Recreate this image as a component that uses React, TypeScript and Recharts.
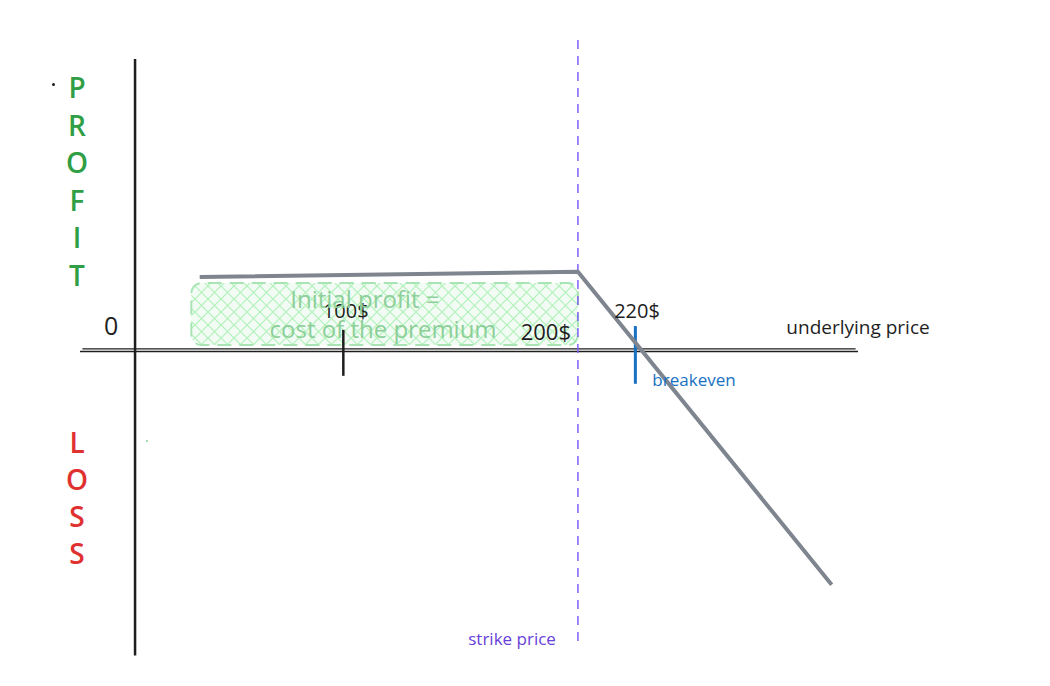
import React from "react";
import {
  LineChart,
  Line,
  XAxis,
  YAxis,
  ReferenceLine,
  ReferenceArea,
  ReferenceDot,
} from "recharts";

// payoff of the short call (price -> profit)
const payoffPrice = [40, 198, 304];
const payoffValue = [19.6, 21, -61.4];

// where the hand-drawn marks sit on the price scale
const strikePrice = 198;
const breakevenPrice = 222;
const markPrice = 100;

const tickLabels = ["100$", "200$", "220$"];

const premiumBox = { x1: 36.5, x2: 198, y1: 1.7, y2: 18 };

const profitLetters = ["P", "R", "O", "F", "I", "T"];
const lossLetters = ["L", "O", "S", "S"];

const data = payoffPrice.map((x, i) => ({ x, y: payoffValue[i] }));

const FONT = "'Open Sans', 'DejaVu Sans', sans-serif";

function Note({ x, y, text, color, size }: any) {
  return (
    <ReferenceDot
      x={x}
      y={y}
      r={1}
      fill="none"
      stroke="none"
      ifOverflow="visible"
      label={{
        value: text,
        position: "center",
        fill: color,
        fontSize: size,
        fontFamily: FONT,
        fontWeight: 500,
      }}
    />
  );
}

export default function App() {
  return (
    <div
      style={{
        position: "absolute",
        left: 0,
        top: 0,
        width: 1050,
        height: 686,
        background: "#fff",
        fontFamily: FONT,
      }}
    >
      <LineChart
        width={1050}
        height={686}
        data={data}
        margin={{ top: 40, right: 192, bottom: 23, left: 80 }}
      >
        <defs>
          <pattern id="hatch" width="13" height="13" patternUnits="userSpaceOnUse">
            <rect width="13" height="13" fill="#f3fcf4" />
            <path d="M0,0 L13,13 M13,0 L0,13" stroke="#b2f2bb" strokeWidth="1.2" />
          </pattern>
        </defs>
        <XAxis type="number" dataKey="x" domain={[-10, 315]} hide allowDataOverflow />
        <YAxis type="number" domain={[-82, 82]} hide allowDataOverflow />

        <ReferenceArea
          x1={premiumBox.x1}
          x2={premiumBox.x2}
          y1={premiumBox.y1}
          y2={premiumBox.y2}
          fill="url(#hatch)"
          fillOpacity={1}
          stroke="#a9e5b4"
          strokeWidth={2}
          strokeDasharray="14 8"
          radius={10}
        />

        {/* axes, drawn like the sketch */}
        <ReferenceLine
          segment={[{ x: 13, y: 77 }, { x: 13, y: -80 }]}
          stroke="#1e1e1e"
          strokeWidth={2.5}
        />
        <ReferenceLine
          segment={[{ x: -10, y: 0 }, { x: 315, y: 0 }]}
          stroke="#1e1e1e"
          strokeWidth={1.5}
        />
        <ReferenceLine
          segment={[{ x: -9, y: 0.7 }, { x: 314, y: 0.7 }]}
          stroke="#1e1e1e"
          strokeWidth={1.2}
        />

        <ReferenceLine
          segment={[{ x: strikePrice, y: 82 }, { x: strikePrice, y: -77 }]}
          stroke="#845ef7"
          strokeWidth={1.5}
          strokeDasharray="9 7"
        />

        <ReferenceLine
          segment={[{ x: markPrice, y: 5.7 }, { x: markPrice, y: -6.4 }]}
          stroke="#1e1e1e"
          strokeWidth={2.5}
        />
        <ReferenceLine
          segment={[{ x: breakevenPrice, y: 6.7 }, { x: breakevenPrice, y: -8.5 }]}
          stroke="#1971c2"
          strokeWidth={3}
        />

        <Line
          type="linear"
          dataKey="y"
          stroke="#7f858e"
          strokeWidth={4}
          dot={false}
          isAnimationActive={false}
        />

        <Note x={3} y={6.7} text="0" color="#1e1e1e" size={25} />
        <Note x={101} y={10.6} text={tickLabels[0]} color="#1e1e1e" size={20} />
        <Note x={184.6} y={5.2} text={tickLabels[1]} color="#1e1e1e" size={22} />
        <Note x={222.7} y={10.7} text={tickLabels[2]} color="#1e1e1e" size={20} />
        <Note x={315} y={6.5} text="underlying price" color="#1e1e1e" size={19} />
        <Note x={246.5} y={-7.5} text="breakeven" color="#1971c2" size={17} />
        <Note x={170.5} y={-75.6} text="strike price" color="#6741d9" size={17} />
        <Note x={109} y={13.8} text="Initial profit =" color="#8ccf99" size={24} />
        <Note x={116.6} y={5.7} text="cost of the premium" color="#8ccf99" size={24} />
      </LineChart>

      {profitLetters.map((ch, i) => (
        <div
          key={`p-${i}`}
          style={{
            position: "absolute",
            left: 62,
            width: 30,
            top: 70 + i * 37.5,
            textAlign: "center",
            color: "#2f9e44",
            fontSize: 28,
            fontWeight: 600,
            lineHeight: "34px",
          }}
        >
          {ch}
        </div>
      ))}
      {lossLetters.map((ch, i) => (
        <div
          key={`l-${i}`}
          style={{
            position: "absolute",
            left: 62,
            width: 30,
            top: 425 + i * 37,
            textAlign: "center",
            color: "#e03131",
            fontSize: 28,
            fontWeight: 600,
            lineHeight: "34px",
          }}
        >
          {ch}
        </div>
      ))}
      <div style={{ position: "absolute", left: 52, top: 83, width: 3, height: 3, borderRadius: 2, background: "#1e1e1e" }} />
      <div style={{ position: "absolute", left: 146, top: 440, width: 2, height: 2, borderRadius: 1, background: "#8ccf99" }} />
    </div>
  );
}
